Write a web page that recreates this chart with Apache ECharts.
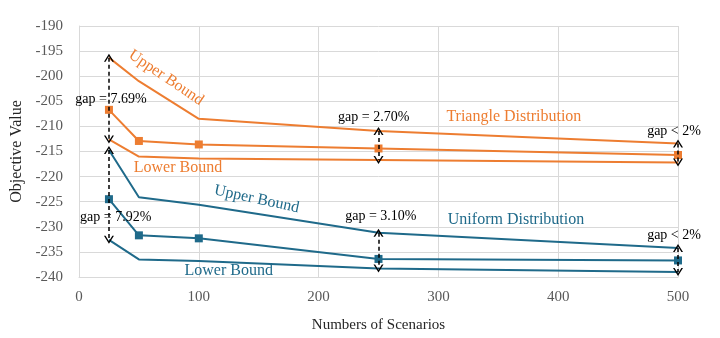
<!DOCTYPE html>
<html>
<head>
<meta charset="utf-8">
<script src="https://cdn.jsdelivr.net/npm/echarts@6/dist/echarts.min.js"></script>
<style>
  html, body { margin: 0; padding: 0; background: #fff; }
  #chart { width: 720px; height: 338px; }
</style>
</head>
<body>
<div id="chart"></div>
<script>
// scenario counts on the x axis
var scenarios = [25, 50, 100, 250, 500];

// triangle distribution (orange)
var triUpper = [-196.3, -201.0, -208.5, -210.9, -213.4];
var triMid   = [-206.7, -212.9, -213.6, -214.4, -215.7];
var triLower = [-212.6, -216.0, -216.4, -216.7, -217.2];

// uniform distribution (blue)
var uniUpper = [-214.7, -224.1, -225.6, -231.2, -234.2];
var uniMid   = [-224.5, -231.7, -232.3, -236.4, -236.7];
var uniLower = [-232.6, -236.5, -236.8, -238.3, -239.0];

// where the gap arrows are drawn (index into scenarios)
var arrowAt = [0, 3, 4];
var triGapText = ['gap = 7.69%', 'gap = 2.70%', 'gap < 2%'];
var uniGapText = ['gap = 7.92%', 'gap = 3.10%', 'gap < 2%'];

var ORANGE = '#ED7D31';
var BLUE = '#1F6A8A';
var FONT = 'Liberation Serif';

var myChart = echarts.init(document.getElementById('chart'));

function pts(vals) {
  return scenarios.map(function (x, i) { return [x, vals[i]]; });
}

// chevron arrow head
var chevron = 'path://M0,10 L5,0 L10,10 L8.4,10 L5,3.2 L1.6,10 Z';

function arrows(up, low) {
  return arrowAt.map(function (i) {
    return [{ coord: [scenarios[i], up[i]] }, { coord: [scenarios[i], low[i]] }];
  });
}

function note(text, coord, color, size, rotate) {
  return {
    coord: coord,
    symbol: 'circle',
    symbolSize: 0,
    label: {
      show: true,
      formatter: text,
      position: 'inside',
      color: color,
      fontFamily: FONT,
      fontSize: size,
      rotate: rotate || 0
    }
  };
}

function lineSeries(name, vals, color, withMarks) {
  return {
    name: name,
    type: 'line',
    data: pts(vals),
    showSymbol: withMarks,
    symbol: 'rect',
    symbolSize: 8,
    itemStyle: { color: color },
    lineStyle: { color: color, width: 2 },
    emphasis: { disabled: true },
    z: 3
  };
}

var arrowStyle = {
  silent: true,
  symbol: [chevron, chevron],
  symbolSize: [10, 8],
  label: { show: false },
  lineStyle: { color: '#000', type: [4, 3], width: 1.5 }
};

var triUp = lineSeries('tri upper', triUpper, ORANGE, false);
triUp.markPoint = {
  silent: true,
  data: [
    note('Upper Bound', [72.6, -200.3], ORANGE, 16, -34),
    note('Lower Bound', [82.6, -218.2], ORANGE, 16),
    note('Triangle Distribution', [363, -208.0], ORANGE, 16),
    note(triGapText[0], [26.7, -204.7], '#000', 14),
    note(triGapText[1], [246, -208.1], '#000', 14),
    note(triGapText[2], [496.7, -211.0], '#000', 14)
  ]
};
triUp.markLine = Object.assign({ data: arrows(triUpper, triLower) }, arrowStyle);

var uniUp = lineSeries('uni upper', uniUpper, BLUE, false);
uniUp.markPoint = {
  silent: true,
  data: [
    note('Upper Bound', [148.3, -224.5], BLUE, 16, -12),
    note('Lower Bound', [125, -238.7], BLUE, 16),
    note('Uniform Distribution', [364.8, -228.6], BLUE, 16),
    note(uniGapText[0], [30.6, -228.2], '#000', 14),
    note(uniGapText[1], [252, -227.9], '#000', 14),
    note(uniGapText[2], [496.7, -231.6], '#000', 14)
  ]
};
uniUp.markLine = Object.assign({ data: arrows(uniUpper, uniLower) }, arrowStyle);

option = {
  animation: false,
  grid: { left: 79, right: 42, top: 26, bottom: 61 },
  xAxis: {
    type: 'value',
    min: 0,
    max: 500,
    interval: 100,
    name: 'Numbers of Scenarios',
    nameLocation: 'middle',
    nameGap: 41,
    nameTextStyle: { color: '#262626', fontFamily: FONT, fontSize: 15 },
    axisLine: { show: true, lineStyle: { color: '#d9d9d9' } },
    axisTick: { show: false },
    axisLabel: { color: '#595959', fontFamily: FONT, fontSize: 15, margin: 13 },
    splitLine: { show: true, lineStyle: { color: '#d9d9d9' } }
  },
  yAxis: {
    type: 'value',
    min: -240,
    max: -190,
    interval: 5,
    name: 'Objective Value',
    nameLocation: 'middle',
    nameGap: 48,
    nameTextStyle: { color: '#262626', fontFamily: FONT, fontSize: 16 },
    axisLine: { show: true, lineStyle: { color: '#d9d9d9' } },
    axisTick: { show: false },
    axisLabel: { color: '#595959', fontFamily: FONT, fontSize: 15, margin: 16 },
    splitLine: { show: true, lineStyle: { color: '#d9d9d9' } }
  },
  series: [
    triUp,
    lineSeries('tri mid', triMid, ORANGE, true),
    lineSeries('tri lower', triLower, ORANGE, false),
    uniUp,
    lineSeries('uni mid', uniMid, BLUE, true),
    lineSeries('uni lower', uniLower, BLUE, false)
  ]
};

myChart.setOption(option);
</script>
</body>
</html>
